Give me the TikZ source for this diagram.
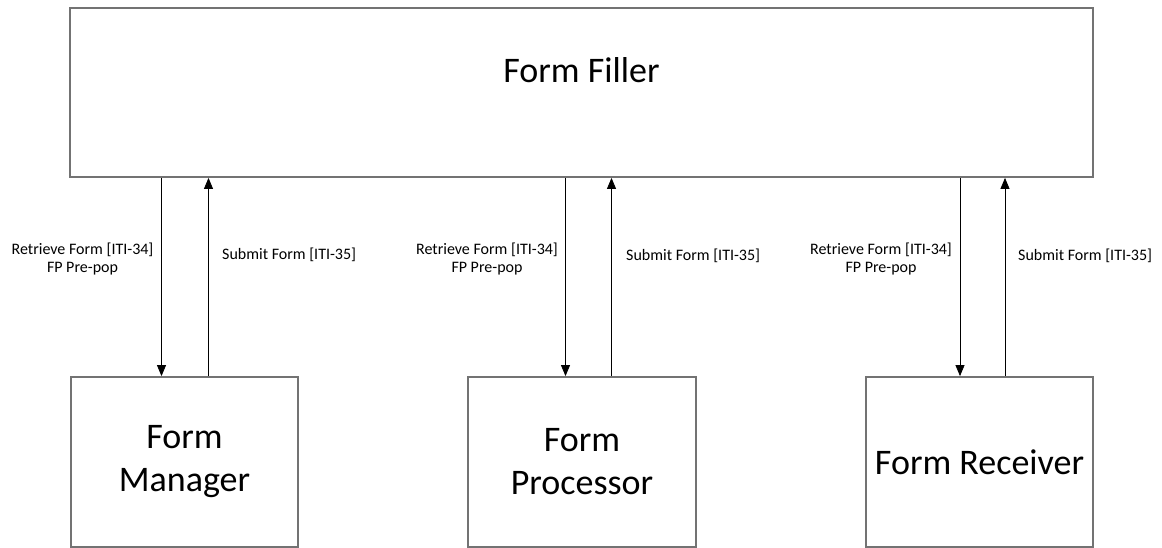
\documentclass[tikz,border=0pt]{standalone}
\usepackage{fontspec}
\setmainfont{Carlito}
\usetikzlibrary{arrows.meta}
\begin{document}
\begin{tikzpicture}[x=1pt,y=-1pt,
  actor/.style={draw=black!55,line width=1.8pt,fill=white,align=center,font=\fontsize{36}{43}\selectfont},
  msg/.style={-{Triangle[width=9pt,length=11pt]},line width=0.8pt,black},
  lbl/.style={font=\fontsize{16}{18}\selectfont,align=center,inner sep=0pt}]
  \useasboundingbox (0,0) rectangle (1162,548);

  % Acteur du haut
  \node[actor,minimum width=1023pt,minimum height=169pt] (filler) at (581.5,92.5) {};
  \node[font=\fontsize{36}{43}\selectfont] (fillert) at (581.5,70) {Form Filler};

  % Acteurs du bas
  \node[actor,minimum width=227pt,minimum height=170pt] (mgr) at (184.5,462) {Form\\Manager};
  \node[actor,minimum width=228pt,minimum height=170pt] (proc) at (582,462) {Form\\Processor};
  \node[actor,minimum width=227pt,minimum height=170pt] (recv) at (979.5,462) {Form Receiver};

  % Transactions
  \foreach \b/\dn/\up in {mgr/-23/24, proc/-16.5/29.5, recv/-19.5/25.5}{
    \draw[msg] ([xshift=\dn pt]\b.north |- filler.south) -- ([xshift=\dn pt]\b.north);
    \draw[msg] ([xshift=\up pt]\b.north) -- ([xshift=\up pt]\b.north |- filler.south);
  }

  % Libellés
  \node[lbl] (ret1) at (82.5,259) {Retrieve Form [ITI-34]\\FP Pre-pop};
  \node[lbl,anchor=west] (sub1) at (222,255) {Submit Form [ITI-35]};
  \node[lbl] (ret2) at (487,259) {Retrieve Form [ITI-34]\\FP Pre-pop};
  \node[lbl,anchor=west] (sub2) at (626,256) {Submit Form [ITI-35]};
  \node[lbl] (ret3) at (881,259) {Retrieve Form [ITI-34]\\FP Pre-pop};
  \node[lbl,anchor=west] (sub3) at (1018,256) {Submit Form [ITI-35]};
\end{tikzpicture}
\end{document}
